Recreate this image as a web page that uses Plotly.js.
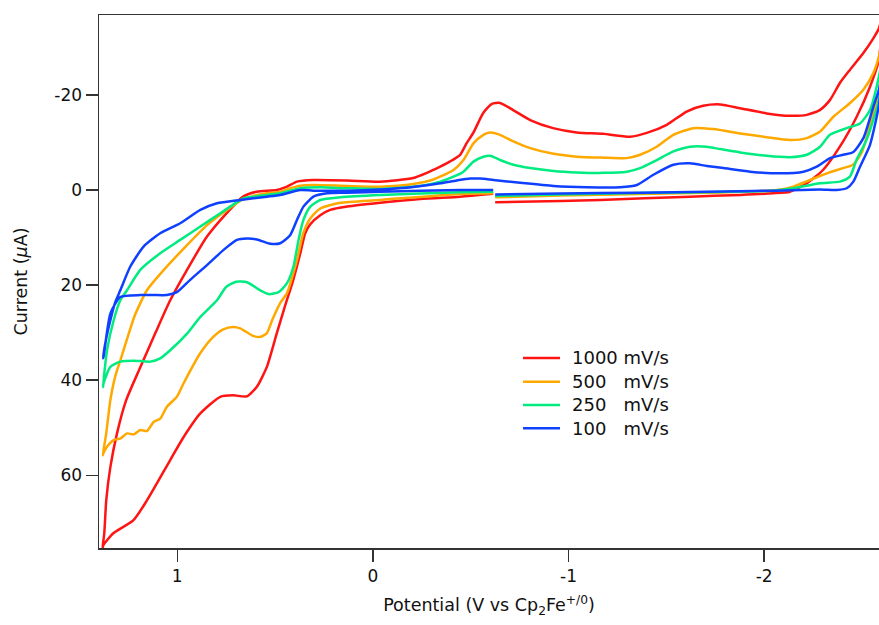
<!DOCTYPE html>
<html>
<head>
<meta charset="utf-8">
<script src="https://cdn.plot.ly/plotly-3.0.1.min.js"></script>
<style>html,body{margin:0;padding:0;background:#fff;}#chart{width:879px;height:625px;}</style>
</head>
<body>
<div id="chart"></div>
<script>
// Scan rates (legend labels)
const seriesNames = ["1000\u00a0mV/s", "500\u00a0\u00a0\u00a0mV/s", "250\u00a0\u00a0\u00a0mV/s", "100\u00a0\u00a0\u00a0mV/s"];
const seriesColors = ["#ff1414", "#ffa800", "#00eb80", "#1040ff"];

// 1000 mV/s : potential (V) and current (uA), one continuous scan
const v1000 = [-0.615,-0.446,-0.242,-0.037,0.131,0.218,0.269,0.320,0.346,0.371,0.407,0.452,0.491,0.542,0.593,0.644,0.714,0.780,0.882,0.968,1.036,1.155,1.225,1.327,1.378,
  1.382,
  1.373,1.363,1.342,1.308,1.261,1.189,1.112,1.036,0.950,0.848,0.746,0.663,0.593,0.491,0.439,0.388,0.305,0.131,-0.037,-0.206,-0.276,-0.344,-0.395,-0.446,-0.480,-0.513,-0.564,-0.608,-0.650,-0.717,-0.804,-0.921,-1.042,-1.177,-1.315,-1.400,-1.502,-1.604,-1.688,-1.775,-1.877,-2.013,-2.132,-2.218,-2.284,-2.336,-2.387,-2.439,-2.507,-2.558,-2.587,
  -2.600,
  -2.587,-2.541,-2.473,-2.387,-2.301,-2.218,-2.132,-2.045,-1.877,-1.621,-1.161,-0.753,-0.625];
const i1000 = [0.8,1.4,1.9,2.7,3.5,4.2,5.3,7.2,9.1,13.3,18.9,24.8,30.1,37.2,41.4,43.4,43.2,43.5,47.0,52.0,56.8,65.3,69.5,72.2,74.7,
  75.3,
  72.2,65.3,58.3,51.2,44.2,37.3,30.1,23.2,16.8,9.8,4.8,1.4,0.36,0.0,-0.7,-1.75,-2.1,-2.0,-1.75,-2.5,-3.6,-4.9,-6.0,-7.4,-9.9,-12.0,-16.2,-18.1,-18.3,-16.8,-14.7,-13.0,-12.1,-11.8,-11.2,-12.0,-13.7,-16.5,-17.7,-18.0,-17.2,-16.1,-15.6,-15.8,-16.8,-18.9,-22.5,-25.3,-28.8,-31.9,-34.0,
  -36.0,
  -27.5,-21.7,-15.4,-9.1,-4.2,-1.4,0.36,0.7,1.05,1.4,2.1,2.5,2.6];

// 500 mV/s
const v500 = [-0.615,-0.446,-0.037,0.167,0.269,0.320,0.356,0.388,0.439,0.474,0.515,0.542,0.576,0.612,0.678,0.714,0.765,0.816,0.882,0.968,1.002,1.053,1.087,1.121,1.155,1.189,1.223,1.257,1.291,1.325,1.359,1.378,
  1.381,
  1.363,1.342,1.317,1.286,1.250,1.220,1.155,1.053,0.950,0.848,0.746,0.664,0.610,0.542,0.474,0.423,0.371,0.304,0.133,-0.037,-0.207,-0.310,-0.344,-0.412,-0.463,-0.514,-0.565,-0.599,-0.650,-0.718,-0.804,-0.923,-1.042,-1.178,-1.298,-1.366,-1.451,-1.536,-1.638,-1.740,-1.877,-2.013,-2.132,-2.218,-2.286,-2.354,-2.439,-2.507,-2.558,-2.587,
  -2.600,
  -2.587,-2.541,-2.500,-2.454,-2.403,-2.320,-2.234,-2.149,-2.064,-1.775,-1.366,-0.957,-0.625];
const i500 = [0.7,0.84,2.1,2.7,3.9,6.0,9.1,14.7,21.7,23.8,27.4,30.1,30.9,30.7,29.1,28.8,29.3,30.9,34.3,40.7,43.5,45.6,48.1,48.8,50.7,50.5,51.4,51.2,52.3,52.6,54.0,55.4,
  55.8,
  51.2,44.2,39.2,35.2,30.5,26.7,21.1,16.1,11.6,7.4,4.2,2.0,1.26,0.69,0.36,-0.36,-0.9,-1.05,-0.84,-0.69,-1.26,-2.2,-2.8,-4.2,-6.3,-9.8,-11.6,-12.1,-11.6,-10.2,-8.8,-7.6,-7.0,-6.8,-6.7,-7.4,-9.1,-11.6,-13.0,-12.8,-11.9,-11.1,-10.5,-10.9,-12.3,-15.4,-18.3,-21.1,-24.6,-28.1,
  -31.0,
  -20.4,-13.7,-8.0,-5.3,-4.6,-3.5,-2.1,-0.7,0.0,0.53,0.84,1.16,1.54];

// 250 mV/s
const v250 = [-0.615,-0.446,-0.037,0.167,0.269,0.320,0.355,0.380,0.406,0.439,0.482,0.533,0.576,0.644,0.699,0.750,0.797,0.882,0.950,1.036,1.087,1.138,1.223,1.291,1.342,1.377,
  1.380,
  1.359,1.325,1.291,1.257,1.189,1.087,0.985,0.882,0.780,0.661,0.610,0.542,0.474,0.423,0.371,0.269,0.133,-0.037,-0.242,-0.344,-0.412,-0.463,-0.514,-0.565,-0.600,-0.650,-0.718,-0.804,-0.923,-1.042,-1.178,-1.298,-1.366,-1.451,-1.536,-1.621,-1.706,-1.775,-1.877,-2.013,-2.132,-2.218,-2.286,-2.336,-2.421,-2.490,-2.541,-2.587,
  -2.600,
  -2.587,-2.523,-2.472,-2.438,-2.387,-2.285,-2.149,-2.047,-1.775,-1.366,-0.957,-0.625];
const i250 = [0.36,0.48,1.05,1.54,2.1,3.5,6.3,10.5,16.1,19.6,21.5,21.9,21.1,19.4,19.3,20.4,23.2,26.7,30.2,33.7,35.4,36.1,35.9,36.1,37.2,40.7,
  41.5,
  33.7,27.4,23.2,21.1,16.8,13.3,10.5,7.7,4.9,1.75,1.4,1.05,0.69,0.15,-0.36,-0.57,-0.36,-0.21,-0.84,-1.75,-2.8,-3.85,-5.96,-7.0,-7.2,-6.3,-5.3,-4.6,-4.0,-3.7,-3.6,-3.85,-4.6,-6.3,-8.1,-9.1,-9.1,-8.6,-7.9,-7.2,-6.9,-7.4,-9.1,-11.6,-13.0,-14.0,-16.8,-23.9,
  -27.0,
  -19.0,-10.5,-6.3,-2.8,-1.75,-1.4,-0.36,0.15,0.42,0.63,0.95,1.26];

// 100 mV/s
const v100 = [-0.615,-0.446,-0.037,0.133,0.235,0.304,0.355,0.388,0.423,0.474,0.525,0.593,0.644,0.695,0.763,0.848,0.934,1.002,1.053,1.123,1.189,1.291,1.342,1.377,
  1.380,
  1.363,1.342,1.317,1.291,1.240,1.172,1.087,0.985,0.882,0.797,0.678,0.542,0.474,0.371,0.304,0.133,-0.037,-0.207,-0.344,-0.429,-0.497,-0.548,-0.616,-0.753,-0.923,-1.094,-1.264,-1.349,-1.434,-1.536,-1.621,-1.707,-1.792,-1.928,-2.081,-2.201,-2.269,-2.337,-2.405,-2.456,-2.507,-2.558,-2.587,
  -2.600,
  -2.587,-2.541,-2.490,-2.456,-2.422,-2.371,-2.285,-2.047,-1.707,-1.366,-0.957,-0.625];
const i100 = [0.0,0.0,0.36,0.57,0.69,1.41,3.5,6.3,9.5,11.2,11.3,10.4,10.2,10.5,12.6,15.8,18.9,21.5,22.1,22.1,22.1,22.5,26.0,35.1,
  35.4,
  31.2,27.4,23.6,21.1,16.1,11.9,9.1,7.0,4.2,2.8,2.1,1.41,1.05,0.0,0.15,0.15,-0.1,-0.63,-1.4,-2.0,-2.4,-2.4,-2.1,-1.5,-0.84,-0.57,-0.57,-1.05,-3.2,-5.3,-5.6,-5.05,-4.6,-3.85,-3.5,-3.85,-4.9,-6.7,-7.4,-8.0,-10.9,-17.5,-21.1,
  -24.0,
  -17.9,-9.5,-4.9,-1.75,-0.36,0.0,-0.1,0.15,0.36,0.57,0.74,0.95];

const xTickVals = [1, 0, -1, -2];
const xTickText = ["1", "0", "-1", "-2"];
const yTickVals = [-20, 0, 20, 40, 60];
const yTickText = ["-20", "0", "20", "40", "60"];

const xs = [v1000, v500, v250, v100];
const ys = [i1000, i500, i250, i100];
const traces = xs.map((x, k) => ({
  x: x, y: ys[k], type: "scatter", mode: "lines",
  name: seriesNames[k], showlegend: false,
  line: {color: seriesColors[k], width: 2.5, shape: "spline", smoothing: 0.6}
}));

// Legend drawn in paper coordinates (line sample + label per series)
const legX0 = 0.5436, legX1 = 0.591, legTextX = 0.6038;
const legRowY = [0.3565, 0.312, 0.2683, 0.2246];
const shapes = seriesNames.map((n, k) => ({
  type: "line", xref: "paper", yref: "paper",
  x0: legX0, x1: legX1, y0: legRowY[k], y1: legRowY[k],
  line: {color: seriesColors[k], width: 2.5}
}));
const annotations = seriesNames.map((n, k) => ({
  text: n, xref: "paper", yref: "paper", x: legTextX, y: legRowY[k],
  xanchor: "left", yanchor: "middle", showarrow: false,
  font: {family: "DejaVu Sans, sans-serif", size: 18, color: "#111"}
}));

const axisFont = {family: "DejaVu Sans, Lucida Grande, sans-serif", size: 17, color: "#111"};
const titleFont = {family: "DejaVu Sans, sans-serif", size: 17.5, color: "#111"};
const layout = {
  width: 879, height: 625,
  margin: {l: 99, r: 0, t: 15, b: 77},
  paper_bgcolor: "#fff", plot_bgcolor: "#fff",
  showlegend: false,
  shapes: shapes,
  annotations: annotations,
  xaxis: {range: [1.40, -2.587], tickvals: xTickVals, ticktext: xTickText,
    showgrid: false, zeroline: false, showline: true, mirror: true, linecolor: "#333", linewidth: 1.5,
    ticks: "outside", ticklen: 12, tickwidth: 1.5, tickcolor: "#333", tickfont: axisFont,
    title: {text: "Potential (V vs Cp<sub>2</sub>Fe<sup>+/0</sup>)", font: titleFont, standoff: 14}},
  yaxis: {range: [75.3, -36.8], tickvals: yTickVals, ticktext: yTickText,
    showgrid: false, zeroline: false, showline: true, mirror: false, linecolor: "#333", linewidth: 1.5,
    ticks: "outside", ticklen: 12, tickwidth: 1.5, tickcolor: "#333", tickfont: axisFont,
    title: {text: "Current (<i>μ</i>A)", font: titleFont, standoff: 22}}
};
Plotly.newPlot("chart", traces, layout, {displayModeBar: false, staticPlot: true});
</script>
</body>
</html>
